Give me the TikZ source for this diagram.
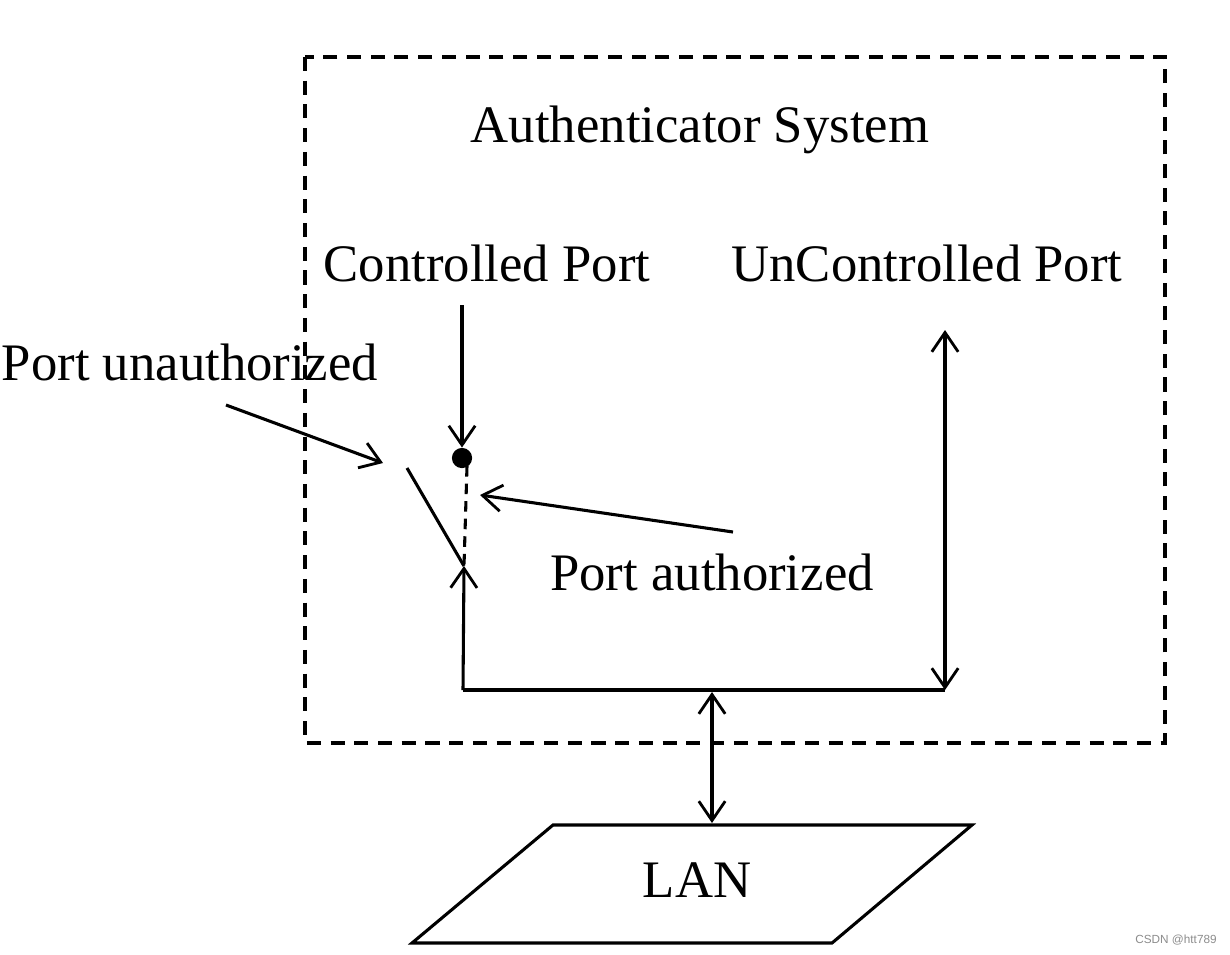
\documentclass[tikz,border=0pt]{standalone}
\usepackage{fontspec}
\setmainfont{Liberation Serif}
\newfontfamily\wmfont{Liberation Sans}
\usetikzlibrary{arrows.meta}
\begin{document}
\begin{tikzpicture}[x=0.02cm,y=-0.02cm,
  lbl/.style={font=\fontsize{30}{36}\selectfont, anchor=base, inner sep=0pt},
  ln/.style={line width=1.75pt},
  arr/.style={ln, -{Straight Barb[length=11pt,width=15pt,line width=1.6pt]}},
  darr/.style={ln, {Straight Barb[length=11pt,width=15pt,line width=1.6pt]}-{Straight Barb[length=11pt,width=15pt,line width=1.6pt]}},
  box/.style={line width=1.75pt, dash pattern=on 8pt off 5.5pt}]
\useasboundingbox (0,0) rectangle (1230,954);
% system box
\draw[box] (305,57) rectangle (1165,743);
\node[lbl] (title) at (700,142) {Authenticator System};
\node[lbl] (cp) at (487,281) {Controlled Port};
\node[lbl] (ucp) at (927,281) {UnControlled Port};
\node[lbl] (pu) at (190,380) {Port unauthorized};
\node[lbl] (pa) at (712,590) {Port authorized};
% switch
\node[fill=black, circle, inner sep=0pt, minimum size=11.5pt] (dot) at (462,458) {};
\coordinate (cpstart) at (462,305);
\draw[arr] (cpstart) -- (dot.north);
\coordinate (swbot) at (464,566);
\coordinate (swtop) at (407,468);
\coordinate (dashtop) at (467,466);
\draw[ln, dash pattern=on 6pt off 4pt] (dashtop) -- (swbot);
\draw[ln] (swtop) -- (swbot);
\coordinate (corner) at (463,690);
\coordinate (rcorner) at (945,690);
\draw[arr] (corner) -- (swbot);
\draw[ln] (corner) -- (rcorner);
\coordinate (ucptop) at (945,330);
\draw[darr] (ucptop) -- (rcorner);
% pointers
\coordinate (pustart) at (226,405);
\coordinate (puend) at (383,463);
\draw[arr] (pustart) -- (puend);
\coordinate (pastart) at (733,532);
\coordinate (paend) at (480,495);
\draw[arr] (pastart) -- (paend);
% LAN
\draw[ln] (412,943) -- (553,825) -- (972,825) -- (832,943) -- cycle;
\node[lbl] (lan) at (697,897) {LAN};
\coordinate (lantop) at (712,823);
\coordinate (sysbot) at (712,692);
\draw[darr] (sysbot) -- (lantop);
\node[font=\wmfont\fontsize{6.7}{8}\selectfont, text=black!45, inner sep=0pt] (wm) at (1176,940) {CSDN @htt789};
\end{tikzpicture}
\end{document}
